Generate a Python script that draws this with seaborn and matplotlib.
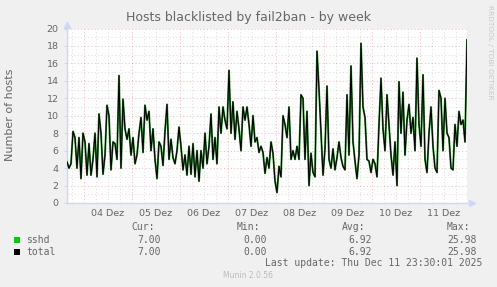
import matplotlib
matplotlib.use("Agg")
import matplotlib.pyplot as plt
import numpy as np
import pandas as pd
import seaborn as sns

# ---- data (hourly averages) ----
start_time = "2025-12-03 15:30"
sshd = [
    4.7, 4.0, 4.5, 8.2, 7.5, 4.0, 7.5, 2.8, 8.0, 7.0,
    3.2, 6.8, 3.2, 5.0, 8.0, 3.0, 10.2, 8.0, 3.3, 5.5,
    11.2, 10.0, 3.8, 7.0, 6.8, 5.0, 14.6, 4.0, 11.9, 8.5,
    7.3, 8.5, 5.5, 7.5, 4.5, 5.5, 8.0, 9.8, 5.8, 11.2,
    9.5, 10.5, 6.0, 8.5, 5.0, 2.8, 7.0, 6.5, 4.3, 8.2,
    11.3, 5.0, 7.3, 5.2, 4.5, 6.0, 8.7, 6.5, 3.8, 5.5,
    3.2, 6.5, 3.3, 6.8, 3.0, 6.0, 2.5, 6.0, 4.0, 8.0,
    4.5, 6.5, 10.2, 5.0, 7.5, 4.5, 11.0, 8.0, 11.0, 9.5,
    8.5, 15.2, 8.0, 11.6, 7.3, 10.5, 8.5, 6.0, 11.0, 9.5,
    11.0, 9.0, 6.5, 10.0, 7.0, 7.5, 5.8, 6.5, 5.8, 3.4,
    5.2, 4.0, 7.0, 5.7, 2.5, 1.2, 4.2, 3.0, 10.0, 9.0,
    7.5, 11.0, 5.0, 6.0, 5.0, 6.5, 5.0, 12.4, 12.0, 5.0,
    10.5, 2.0, 5.7, 3.5, 3.0, 17.4, 13.0, 8.0, 3.2, 6.2,
    13.4, 5.0, 4.0, 6.2, 3.8, 5.2, 7.0, 5.2, 4.2, 3.8,
    12.4, 5.5, 15.7, 7.0, 4.8, 2.8, 5.5, 18.3, 11.0, 9.8,
    5.0, 4.8, 3.5, 5.0, 4.5, 3.0, 9.0, 14.3, 8.5, 6.0,
    12.4, 9.0, 5.5, 3.2, 7.0, 2.0, 13.9, 8.0, 12.7, 5.5,
    9.5, 11.3, 8.0, 9.8, 6.0, 16.6, 9.0, 6.5, 14.7, 5.0,
    3.5, 8.0, 11.0, 6.5, 4.0, 3.5, 12.9, 12.0, 6.0, 12.0,
    8.0, 7.5, 4.0, 3.8, 9.0, 6.5, 10.5, 9.0, 9.5, 7.0,
    18.7,
]
total = list(sshd)
day_labels = ["04 Dez", "05 Dez", "06 Dez", "07 Dez", "08 Dez", "09 Dez", "10 Dez", "11 Dez"]
y_ticks = [0, 2, 4, 6, 8, 10, 12, 14, 16, 18, 20]
series_names = ["sshd", "total"]
series_colors = ["#00CC00", "#000000"]
cur_vals = ["7.00", "7.00"]
min_vals = ["0.00", "0.00"]
avg_vals = ["6.92", "6.92"]
max_vals = ["25.98", "25.98"]
title = "Hosts blacklisted by fail2ban - by week"
ylabel = "Number of hosts"
last_update = "Last update: Thu Dec 11 23:30:01 2025"

times = pd.date_range(start_time, periods=len(sshd), freq="h")
df = pd.DataFrame({"time": times, "sshd": sshd, "total": total})

W, H = 497, 287
FONT = "#666666"
AXIS = "#CFD6F8"

fig = plt.figure(figsize=(W / 100, H / 100), dpi=100, facecolor="#F0F0F0")
ax = fig.add_axes([67 / W, 84 / H, 400 / W, 174.5 / H])
ax.set_facecolor("#FFFFFF")

x0, x1 = times[0], times[-1]
ax.set_xlim(x0, x1)
ax.set_ylim(0, 20)

# grid
MAJ = (0.9, 0.2, 0.2, 0.35)
MIN = (0.55, 0.55, 0.55, 0.3)
for v in range(1, 21):
    ax.axhline(v, color=MAJ if v % 2 == 0 else MIN, lw=0.7, ls=(0, (1, 2.5)), zorder=1)
grid_times = pd.date_range("2025-12-03 18:00", "2025-12-11 18:00", freq="6h")
for t in grid_times:
    ax.axvline(t, color=MAJ if t.hour == 0 else MIN, lw=0.7, ls=(0, (1, 2.5)), zorder=1)

sns.lineplot(data=df, x="time", y="sshd", ax=ax, color="#2f8a2f", lw=1.4, zorder=3)
sns.lineplot(data=df, x="time", y="total", ax=ax, color="#000000", lw=0.75, zorder=4)

# axes
for s in ["top", "right"]:
    ax.spines[s].set_visible(False)
for s in ["left", "bottom"]:
    ax.spines[s].set_color(AXIS)
    ax.spines[s].set_linewidth(1.0)
ax.plot([0], [1.02], marker="^", color=AXIS, ms=4, transform=ax.transAxes, clip_on=False, zorder=5)
ax.plot([1.013], [0], marker=">", color=AXIS, ms=4, transform=ax.transAxes, clip_on=False, zorder=5)

ax.set_yticks(y_ticks)
ax.set_yticklabels([str(v) for v in y_ticks])
noon = pd.date_range("2025-12-04 12:00", periods=len(day_labels), freq="D")
ax.set_xticks(noon)
ax.set_xticklabels(day_labels)
ax.tick_params(axis="y", length=2, color=AXIS, labelsize=6.8, labelcolor=FONT, pad=4)
ax.tick_params(axis="x", length=0, labelsize=6.8, labelcolor=FONT, pad=4)
ax.set_xlabel("")
ax.set_ylabel("")

def px(x, y):
    return x / W, 1 - y / H

fig.text(*px(248, 18), title, ha="center", va="center", fontsize=9, color=FONT)
fig.text(*px(10, 115), ylabel, ha="center", va="center", rotation=90, fontsize=8, color=FONT)
fig.text(*px(490, 52), "RRDTOOL / TOBI OETIKER", ha="center", va="center", rotation=270,
         fontsize=5.3, color="#C8C8C8")

mono = "DejaVu Sans Mono"
fs = 7.0
for lbl, xl in zip(["Cur:", "Min:", "Avg:", "Max:"], [131.7, 236.7, 342.3, 446.7]):
    fig.text(*px(xl, 227), lbl, ha="left", va="center", fontsize=fs, family=mono, color=FONT)
for i, name in enumerate(series_names):
    yy = 239.7 + i * 12
    fig.patches.append(plt.Rectangle(px(14, yy + 3), 6 / W, 6 / H, transform=fig.transFigure,
                                     facecolor=series_colors[i], edgecolor="none"))
    fig.text(*px(26.5, yy), name, ha="left", va="center", fontsize=fs, family=mono, color=FONT)
    for vals, xr in zip([cur_vals, min_vals, avg_vals, max_vals], [160.7, 266.7, 371.7, 476.7]):
        fig.text(*px(xr, yy), vals[i], ha="right", va="center", fontsize=fs, family=mono, color=FONT)
fig.text(*px(482.5, 263.3), last_update, ha="right", va="center", fontsize=fs, family=mono, color=FONT)
fig.text(*px(248, 276), "Munin 2.0.56", ha="center", va="center", fontsize=5.5, color="#BBBBBB")

fig.savefig("out.png", dpi=100, facecolor=fig.get_facecolor())
